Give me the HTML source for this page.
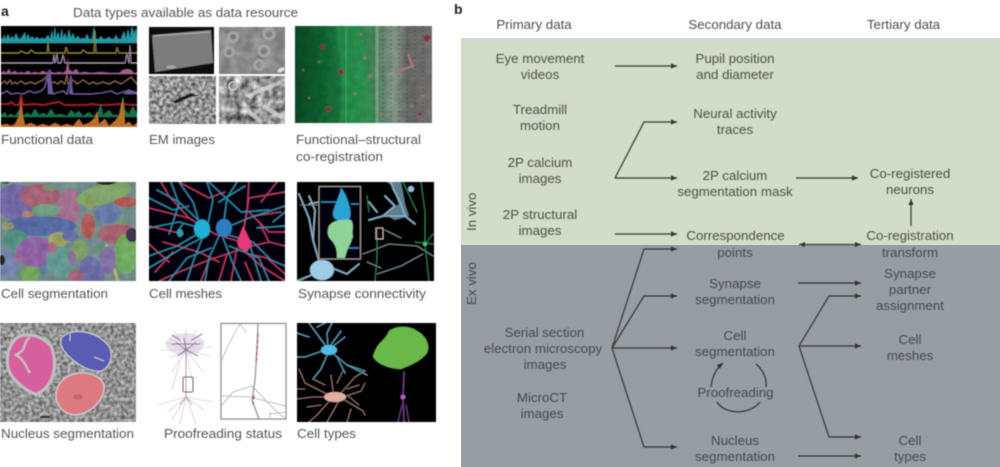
<!DOCTYPE html>
<html><head><meta charset="utf-8"><style>
html,body{margin:0;padding:0;background:#fff;width:1000px;height:467px;overflow:hidden}
svg{display:block}
text{font-family:"Liberation Sans",sans-serif;font-size:13.3px;fill:#555}
.r text,text.c{text-anchor:middle}
.r text{fill:#4d5048}
.g text{fill:#44484c}
.a{fill:none;stroke:#33362f;stroke-width:1.2;marker-end:url(#ah)}
.n{fill:none;stroke-linecap:round;stroke-linejoin:round}
</style></head><body>
<svg width="1000" height="467" viewBox="0 0 1000 467" xmlns="http://www.w3.org/2000/svg">
<defs>
<marker id="ah" markerUnits="userSpaceOnUse" markerWidth="7" markerHeight="6" refX="6" refY="3" orient="auto"><path d="M0 .5L6 3L0 5.500z" fill="#2e3029"/></marker>
<marker id="as" markerUnits="userSpaceOnUse" markerWidth="7" markerHeight="6" refX="1" refY="3" orient="auto"><path d="M7 .5L1 3L7 5.500z" fill="#2e3029"/></marker>
<filter id="b" x="-2%" y="-2%" width="104%" height="104%"><feGaussianBlur stdDeviation=".65"/></filter>
<filter id="b1" x="-5%" y="-5%" width="110%" height="110%"><feGaussianBlur stdDeviation="1"/></filter>
<filter id="gn" x="0" y="0" width="100%" height="100%" color-interpolation-filters="sRGB"><feTurbulence type="fractalNoise" baseFrequency=".28" numOctaves="3" seed="9"/><feColorMatrix values=".9 0 0 0 .12 .9 0 0 0 .12 .9 0 0 0 .12 0 0 0 0 1"/></filter>
<filter id="gn2" x="0" y="0" width="100%" height="100%" color-interpolation-filters="sRGB"><feTurbulence type="fractalNoise" baseFrequency=".13" numOctaves="3" seed="17"/><feColorMatrix values="1.100 0 0 0 .03 1.100 0 0 0 .03 1.100 0 0 0 .03 0 0 0 0 1"/></filter>
<filter id="gn3" x="0" y="0" width="100%" height="100%" color-interpolation-filters="sRGB"><feTurbulence type="fractalNoise" baseFrequency=".09" numOctaves="2" seed="3"/><feColorMatrix values="1.400 0 0 0 -.2 1.400 0 0 0 -.2 1.400 0 0 0 -.2 0 0 0 0 1"/></filter>
<linearGradient id="cg" x1="0" x2="1" y1="0" y2="0"><stop offset="0" stop-color="#0e4a24"/><stop offset=".25" stop-color="#136f38"/><stop offset=".42" stop-color="#1d8a48"/><stop offset=".58" stop-color="#4a8d62"/><stop offset=".66" stop-color="#74917c"/><stop offset=".72" stop-color="#8fa295"/><stop offset=".82" stop-color="#6c706c"/><stop offset="1" stop-color="#7b7778"/></linearGradient>
</defs>
<rect width="1000" height="467" fill="#fff"/>
<rect x="461" y="38" width="539" height="207.500" fill="#d2dcc9"/>
<rect x="461" y="245" width="539" height="222" fill="#989da3"/>

<g filter="url(#b)">
<!-- Functional data -->
<svg x="1" y="26" width="136" height="101" viewBox="0 0 136 101">
<rect width="136" height="101" fill="#050505"/>
<path d="M0 17V12L2 13 3 9 5 13 7 8 9 13 11 10 13 13 15 7 17 12 19 13 21 11 24 6 25 13 27 8 29 13 31 10 33 13 36 11 38 13 41 12 44 13 47 9 49 13 51 4 52 13 54 0 55 12 57 6 59 13 61 2 62 12 64 7 66 13 68 3 70 12 72 7 74 13 77 10 79 13 82 12 84 13 86 8 88 13 91 13 93 0 95 13 98 13 100 10 102 13 105 13 108 11 110 13 113 13 115 9 117 13 120 13 123 5 125 13 127 3 129 12 131 0 133 8 135 2 136 12V17Z" fill="#2398a2"/>
<path d="M0 27H18L20 25 24 27H28L30 24 34 27H46L47 17 48 27H64L65 21 67 27H80L82 24 86 27H93L94 5 95 27H115L116 22 118 27H136" fill="none" stroke="#8a8136" stroke-width="1"/>
<path class="n" stroke="#a18fa6" stroke-width=".9" d="M0 37H52L53 29 54 37 56 28 57 37 60 37 62 29 64 37H124L126 28 128 37 129 20 130 37H136"/>
<path d="M0 48V47L3 45 5 47 8 43 10 47 14 45 17 47 20 46 23 47 27 45 30 47 34 46 38 47 42 45 46 47 50 46 54 47 58 46 62 47 65 45 67 32 68 44 72 46 75 43 78 47 84 46 90 47 100 46 110 47 118 47 122 44 126 43 130 44 133 47 136 47V48Z" fill="#a35e8d"/>
<path class="n" stroke="#8a6352" stroke-width="1" d="M0 58 4 55 6 58 9 54 11 58 14 56 16 58 20 55 24 58 30 56 34 58 38 56 42 54 46 50 47 58 53 56 57 58 60 55 64 58 66 48 67 58 72 54 76 58 82 54 88 58 92 56 96 58 102 56 108 58 114 55 120 58 126 54 130 51 136 58"/>
<path class="n" stroke="#6d5aa0" stroke-width="1.100" d="M0 68 6 65 10 68 16 67 22 68 28 65 34 67 40 65 44 61 47 46 49 44 50 62 52 68 62 65 66 68 68 60 70 50 71 68 80 68 90 68 100 67 110 65 116 68 122 66 128 64 136 68"/>
<path d="M47 68V50L49 44 52 68ZM68 68 70 52 72 68ZM122 68 128 64 136 66V68Z" fill="#6d5aa0"/>
<path class="n" stroke="#a81f30" stroke-width="1.500" d="M0 78H8L10 76 14 79H18L20 70 22 79 34 78 42 79 52 77 58 76 64 79H86L90 78 100 79H108L118 78 136 79"/>
<path d="M0 91V89L4 86 6 90 10 88 14 90 18 84 21 90 26 87 30 89 34 83 38 89 42 87 46 89 50 83 54 89 60 88 66 90 70 84 74 88 78 85 82 90 88 86 92 90 96 88 100 78 102 89 108 84 112 89 118 89 122 70 124 84 128 88 132 80 136 88V91Z" fill="#136f49"/>
<path d="M0 101V99L6 98 10 100 14 98 18 90 20 72 22 90 24 99 30 97 36 100 42 98 48 100 54 97 60 100 66 98 72 100 78 93 82 99 88 97 94 92 96 85 98 98 104 93 108 100 114 95 118 90 122 72 124 98 128 96 132 100 136 97V101Z" fill="#bd7025"/>
</svg>
<!-- EM images -->
<svg x="149" y="27" width="65" height="47" viewBox="0 0 65 47"><rect width="65" height="47" fill="#0b0b0b"/><path d="M3 8 62 3 64 36 6 45Z" fill="#7c7c7c"/><path d="M5 9 61 5" stroke="#aaa" stroke-width="1.200"/><ellipse cx="22" cy="40" rx="5" ry="1.500" fill="#aaa"/></svg>
<svg x="219" y="27" width="66" height="47" viewBox="0 0 66 47"><rect width="66" height="47" filter="url(#gn3)"/><rect width="66" height="47" fill="#8a8a8a" opacity=".8"/><g fill="none" stroke="#a4a4a4" stroke-width="3"><circle cx="14" cy="10" r="4.500"/><circle cx="50" cy="7" r="5"/><circle cx="10" cy="25" r="4.500"/><circle cx="45" cy="24" r="5"/><circle cx="40" cy="38" r="4.500"/></g><ellipse cx="62" cy="43" rx="4" ry="2" fill="#ddd" transform="rotate(-30 62 43)"/></svg>
<svg x="149" y="76" width="67" height="48" viewBox="0 0 67 48"><rect width="67" height="48" filter="url(#gn)"/><path d="M26 28 46 19 42 17 24 25Z" fill="#222"/><path d="M30 22 50 19" stroke="#111" stroke-width="1"/></svg>
<svg x="219" y="76" width="66" height="48" viewBox="0 0 66 48"><rect width="66" height="48" filter="url(#gn2)"/><path d="M30 22C36 14 50 12 62 6M28 34 42 46M44 30 64 42" stroke="#ddd" stroke-width="4" fill="none" opacity=".7"/><circle cx="14" cy="10" r="4" fill="none" stroke="#ccc" stroke-width="1.500"/></svg>
<!-- Coregistration -->
<svg x="295" y="26" width="137" height="97" viewBox="0 0 137 97">
<rect width="137" height="97" fill="url(#cg)"/>
<path d="M60 0C75 14 68 40 82 97H44C50 50 42 20 40 0Z" fill="#2ea357" opacity=".55" filter="url(#b1)"/>
<rect width="137" height="97" filter="url(#gn2)" opacity=".2" style="mix-blend-mode:multiply"/>
<g stroke="#3c3f3c" stroke-width="1.400" stroke-dasharray="1 3.500" opacity=".7"><path d="M88 0V97M96 0V97M104 0V97M112 0V97M120 0V97M128 0V97"/></g>
<path d="M51 0V97" stroke="#6cbb86" stroke-width=".7" opacity=".6"/>
<path d="M82 0V97" stroke="#b7c6bb" stroke-width="3" opacity=".4"/>
<g fill="#8e2a3c"><circle cx="132" cy="12" r="3.200"/><circle cx="46" cy="46" r="2.600"/><circle cx="27" cy="21" r="2.200"/><circle cx="33" cy="83" r="2.600"/><circle cx="125" cy="88" r="1.600"/></g>
<g fill="#b77a5f" opacity=".6"><circle cx="8" cy="44" r="1.300"/><circle cx="24" cy="36" r="1.300"/><circle cx="70" cy="32" r="1.800"/><circle cx="75" cy="50" r="2.200"/><circle cx="60" cy="68" r="1.600"/><circle cx="95" cy="32" r="1.500"/><circle cx="66" cy="8" r="1.300"/><circle cx="100" cy="62" r="1.500"/><circle cx="128" cy="70" r="2.200"/><circle cx="117" cy="80" r="1.800"/><circle cx="86" cy="88" r="1.500"/><circle cx="14" cy="72" r="1.300"/></g>
<path d="M100 46 118 40 113 28 118 42" fill="none" stroke="#b8717c" stroke-width="1.800"/>
</svg>

<!-- Cell segmentation -->
<svg x="0" y="182" width="136" height="99" viewBox="0 0 136 99">
<rect width="136" height="99" fill="#6c8a8b"/>
<ellipse cx="16" cy="20" rx="20" ry="18" fill="#6e62a6"/><ellipse cx="40" cy="14" rx="20" ry="12" fill="#a85c72"/>
<ellipse cx="68" cy="28" rx="12" ry="22" fill="#a46c8e" transform="rotate(8 68 28)"/><ellipse cx="104" cy="12" rx="28" ry="10" fill="#7ea866" transform="rotate(-14 104 12)"/>
<ellipse cx="108" cy="32" rx="13" ry="10" fill="#5e76a8"/><ellipse cx="126" cy="20" rx="12" ry="5" fill="#b2504e"/><ellipse cx="118" cy="52" rx="20" ry="10" fill="#a85a6a"/>
<ellipse cx="40" cy="44" rx="36" ry="10" fill="#4f67a6"/><ellipse cx="88" cy="44" rx="7" ry="13" fill="#b2554e"/><ellipse cx="16" cy="58" rx="12" ry="10" fill="#488f7c"/>
<ellipse cx="36" cy="70" rx="20" ry="15" fill="#8e5aa6"/><ellipse cx="6" cy="82" rx="14" ry="14" fill="#6f7fb0"/><ellipse cx="30" cy="92" rx="10" ry="8" fill="#6aa74f"/><ellipse cx="58" cy="58" rx="10" ry="8" fill="#9fa25a"/>
<ellipse cx="60" cy="80" rx="14" ry="16" fill="#5c9a90" transform="rotate(-25 60 80)"/><ellipse cx="80" cy="68" rx="8" ry="10" fill="#7ba15c"/><ellipse cx="92" cy="90" rx="12" ry="16" fill="#6669a8" transform="rotate(-20 92 90)"/>
<ellipse cx="70" cy="54" rx="8" ry="5" fill="#5d69a6"/><ellipse cx="126" cy="72" rx="12" ry="20" fill="#6dad5b"/><path d="M106 62 118 99" stroke="#b3bf62" stroke-width="3"/>
<ellipse cx="108" cy="78" rx="8" ry="14" fill="#7e6aa8"/><ellipse cx="76" cy="94" rx="8" ry="6" fill="#a85f7a"/><ellipse cx="46" cy="28" rx="14" ry="6" fill="#69a07a"/>
<g opacity=".85"><ellipse cx="28" cy="32" rx="6" ry="3" fill="#c07a5a"/><ellipse cx="50" cy="6" rx="7" ry="3" fill="#6a9a6a"/><ellipse cx="90" cy="20" rx="5" ry="7" fill="#8a9a50"/><ellipse cx="8" cy="44" rx="6" ry="4" fill="#a0a060"/><ellipse cx="52" cy="66" rx="4" ry="6" fill="#c06080"/><ellipse cx="100" cy="66" rx="5" ry="4" fill="#5a9070"/><ellipse cx="18" cy="76" rx="5" ry="4" fill="#a66a90"/><ellipse cx="72" cy="76" rx="4" ry="7" fill="#8a60a0"/><ellipse cx="122" cy="40" rx="6" ry="3" fill="#6aa060"/><ellipse cx="44" cy="88" rx="4" ry="5" fill="#5a80a8"/></g>
<rect width="136" height="99" filter="url(#gn2)" opacity=".12"/>
<ellipse cx="132" cy="53" rx="6" ry="7" fill="#3f3650"/><ellipse cx="2" cy="78" rx="3" ry="5" fill="#222"/><path d="M95 0Q105 6 118 0Z" fill="#222"/><path d="M0 0Q8 3 10 0Z" fill="#222"/>
</svg>

<!-- Cell meshes -->
<svg x="149" y="182" width="136" height="99" viewBox="0 0 136 99">
<rect width="136" height="99" fill="#060608"/>
<g class="n" stroke="#b83660" stroke-width="1.400"><path d="M92 62 98 30 100 0"/><path d="M92 60 66 52 40 36 0 26"/><path d="M92 62 100 16 136 10"/><path d="M100 30 120 50 136 50"/><path d="M90 68 60 78 30 90 10 99"/><path d="M92 66 112 84 136 99"/><path d="M88 66 82 99"/><path d="M78 72 70 99"/><path d="M40 36 20 14 12 0"/><path d="M104 34 132 30"/><path d="M94 66 120 60 136 64"/><path d="M70 80 50 70 14 60"/><path d="M30 0 60 16 76 10"/><path d="M0 44 34 52"/><path d="M100 72 118 76 136 92"/><path d="M60 78 52 99"/><path d="M96 80 104 99"/><path d="M24 70 6 90"/><path d="M112 20 128 0"/><path d="M20 80 0 62"/><path d="M120 60 110 40"/></g>
<g class="n" stroke="#2a86a4" stroke-width="1.400"><path d="M52 46 44 20 30 0"/><path d="M52 46 30 40 0 46"/><path d="M52 50 28 64 0 74"/><path d="M54 54 44 80 38 99"/><path d="M58 46 64 18 58 0"/><path d="M74 46 78 16 88 0"/><path d="M76 46 100 36 136 24"/><path d="M76 52 104 60 122 78 136 84"/><path d="M74 56 84 82 92 99"/><path d="M70 54 60 76 56 99"/><path d="M60 48 30 20 8 8"/><path d="M60 0 92 30 120 28"/><path d="M0 86 30 68 60 52"/><path d="M100 60 112 99"/><path d="M124 40 136 30"/><path d="M22 0 30 22 20 52"/><path d="M0 16 24 28 40 24"/><path d="M34 42 28 50"/><path d="M20 99 38 76 62 66"/><path d="M80 64 110 76 120 99"/><path d="M108 46 136 44"/><path d="M70 20 96 4"/></g>
<ellipse cx="53" cy="47" rx="8" ry="9.500" fill="#1cb1d6"/><ellipse cx="75" cy="46" rx="8" ry="9" fill="#2f7dc0"/><path d="M94 44 88 60 90 66 98 70 103 62Z" fill="#e63a78"/><ellipse cx="31" cy="51" rx="3" ry="4" fill="#2aa0a8"/>
</svg>

<!-- Synapse connectivity -->
<svg x="297" y="182" width="137" height="99" viewBox="0 0 137 99">
<rect width="137" height="99" fill="#030304"/>
<g class="n" stroke="#86b0c4" stroke-width="1.600"><path d="M24 86 16 58 12 36 2 12"/><path d="M16 58 18 28 12 14"/><path d="M22 90 0 99"/><path d="M30 84 50 92 62 82"/><path d="M72 38 86 34 108 34 104 22 96 6 94 0"/><path d="M108 34 118 42"/><path d="M86 34 98 24 88 14"/><path d="M12 22 22 20"/><path d="M80 30 72 20"/></g>
<path d="M88 32 102 22 96 4 90 0 104 0 108 22 112 34 98 38Z" fill="#86b4c8" opacity=".7"/>
<ellipse cx="25" cy="88" rx="12" ry="10" fill="#9ccde4"/><circle cx="114" cy="7" r="3" fill="#8cc0d8"/>
<g class="n" stroke="#7e99a0" stroke-width=".8"><path d="M66 72 92 62 120 64 136 74"/><path d="M80 92 104 84 126 72"/><path d="M88 48 104 56"/><path d="M70 80 84 86"/></g>
<g class="n" stroke="#2a8552" stroke-width=".9"><path d="M124 0 128 30 128 62 132 99"/><path d="M118 60 136 62"/><path d="M80 46 80 76 78 99"/><path d="M128 62 136 52"/><path d="M106 0 120 30"/><path d="M72 30 70 14"/></g>
<circle cx="128" cy="62" r="2" fill="#43c97e"/>
<rect x="22" y="4.500" width="41.500" height="72.500" fill="#050608" stroke="#9b8b86" stroke-width="1.200"/>
<path d="M44 6C42 16 36 26 36 32 36 38 42 40 50 39 54 38 54 32 53 26 51 18 48 10 44 6Z" fill="#2ba3d2"/><path d="M24 20H40M54 22H62M44 66H62" stroke="#2e8fb0" stroke-width="1.500" fill="none"/>
<path d="M32 44C36 38 46 37 54 38 58 44 54 50 56 54 54 62 50 66 48 76H40C40 66 38 62 34 58 30 54 30 48 32 44Z" fill="#8fd39b"/>
<rect x="79" y="46" width="7" height="11" fill="none" stroke="#bba39c" stroke-width="1"/><path d="M3 23H22" stroke="#9b8b86" stroke-width=".8"/>
</svg>

<!-- Nucleus segmentation -->
<svg x="0" y="323" width="136" height="99" viewBox="0 0 136 99">
<rect width="136" height="99" filter="url(#gn)"/>
<rect width="136" height="99" fill="#8f8f8f" opacity=".2"/>
<path d="M14 20C22 8 42 14 50 24 56 40 54 62 36 70 26 66 10 54 9 42 8 32 10 26 14 20Z" fill="none" stroke="#c0c0c0" stroke-width="6"/>
<path d="M14 20C22 8 42 14 50 24 56 40 54 62 36 70 26 66 10 54 9 42 8 32 10 26 14 20Z" fill="#d6609e"/>
<path d="M30 14C22 20 28 26 16 32 24 36 26 44 30 50" fill="none" stroke="#c9bfc6" stroke-width="2.200"/>
<path d="M62 14C74 4 94 9 104 18 114 26 114 40 102 48 88 50 72 38 64 28 60 22 60 18 62 14Z" fill="#5a5cb4" stroke="#c9c9c9" stroke-width="1.200"/>
<path d="M70 10V18M94 34 104 38" stroke="#c7c8e0" stroke-width="1"/>
<path d="M60 60C70 46 98 46 104 62 106 76 90 92 74 92 60 90 50 76 60 60Z" fill="#dd7a80" stroke="#c9c9c9" stroke-width="1.500"/>
<ellipse cx="78" cy="74" rx="5" ry="3" fill="#c8666f"/>
<path d="M40 94H50" stroke="#222" stroke-width="2"/>
</svg>

<!-- Proofreading -->
<ellipse cx="185" cy="344" rx="19" ry="11" fill="#cdbcd2" opacity=".45"/>
<g class="n" stroke="#cbbdcf" stroke-width=".6">
<path d="M186 350 165 342M186 350 170 358M186 350 175 332M186 350 196 330M186 350 205 341M186 350 210 356M186 350 172 372M186 350 203 372M186 350 186 330M186 350 160 350M186 350 212 347M180 360 172 390M186 350 192 380"/>
<path d="M186 397 168 412M186 397 172 420M186 397 204 410M186 397 196 424M186 397 180 424M186 397 158 405M186 397 212 402"/>
</g>
<g class="n" stroke="#7a5c88" stroke-width=".8"><path d="M186 350 176 342M186 350 196 342M186 350 178 356M186 350 198 356M186 350 184 338M186 344H172M186 344H200M180 340 172 335M192 340 202 334"/></g>
<path class="n" stroke="#b58aa0" stroke-width=".9" d="M186 350V397"/><path class="n" stroke="#b09aa8" stroke-width=".7" d="M186 397 180 405M186 397 192 405"/>
<rect x="183" y="377" width="10" height="15" rx="1.500" fill="none" stroke="#766" stroke-width="1"/>
<rect x="221" y="323.500" width="65" height="95.500" fill="#fff" stroke="#8a8a8a" stroke-width="1.300"/>
<g class="n" stroke="#bdbbc7" stroke-width="1"><path d="M240 324 228 345 222 360M222 405 233 392 252 386 277 412 285 418M222 396 250 397 285 406M285 412 270 414M270 412V419M240 324 246 332"/></g>
<path class="n" stroke="#9a95a8" stroke-width="1.500" d="M258 324 257 350 255 380 252 400 259 419"/>
<path class="n" stroke="#b12c50" stroke-width="1.400" stroke-dasharray="3 3" d="M258 334 256 362M254 396 253 404"/>

<!-- Cell types -->
<svg x="297" y="323" width="139" height="99" viewBox="0 0 139 99">
<rect width="139" height="99" fill="#040405"/>
<g class="n" stroke="#5a9db6" stroke-width="1.100"><path d="M31 26 30 10 35 0"/><path d="M31 26 12 0"/><path d="M31 26 44 8"/><path d="M31 26 8 34 0 34"/><path d="M33 28 50 42 68 48"/><path d="M31 30 24 46 16 56"/><path d="M35 24 48 14"/><path d="M50 42 70 52"/><path d="M12 14 0 10"/><path d="M40 34 48 50"/><path d="M20 4 28 0"/></g>
<ellipse cx="32" cy="27" rx="8" ry="5" fill="#4cc0e4"/>
<g class="n" stroke="#a47d74" stroke-width=".8"><path d="M36 74 8 60 2 46"/><path d="M36 74 16 74 0 76"/><path d="M36 74 20 92 12 99"/><path d="M44 74 34 92 30 99"/><path d="M36 68 34 52"/><path d="M44 70 58 54 68 48"/><path d="M46 74 64 68 68 60"/><path d="M46 76 66 88 68 92"/><path d="M50 72 62 82"/><path d="M40 60 46 48"/><path d="M10 84 24 82"/><path d="M50 66 62 62"/><path d="M28 62 16 56"/><path d="M54 86 50 99"/><path d="M8 66 0 66"/></g>
<ellipse cx="38" cy="74" rx="11" ry="5" fill="#e3aca0"/>
<path d="M78 28C82 18 88 18 92 8 100 2 114 3 120 8 128 12 134 22 130 30 124 38 114 42 104 46 92 46 78 40 76 33Z" fill="#6bb84a"/>
<path class="n" stroke="#7c4696" stroke-width="1.100" d="M107 49 106 75 107 99"/><path class="n" stroke="#7c4696" stroke-width=".8" d="M105 82 101 99M109 82 112 99"/><circle cx="106" cy="74" r="2.400" fill="#b95cc0"/>
</svg>
</g>

<g filter="url(#b)">
<text x="1" y="16" style="font-weight:bold;font-size:14px;fill:#222">a</text>
<text x="454" y="14" style="font-weight:bold;font-size:14px;fill:#222">b</text>
<text x="73" y="17" textLength="225" lengthAdjust="spacingAndGlyphs">Data types available as data resource</text>
<text x="1" y="144" textLength="92" lengthAdjust="spacingAndGlyphs">Functional data</text>
<text x="149" y="144" textLength="66" lengthAdjust="spacingAndGlyphs">EM images</text>
<text x="296" y="144" textLength="125" lengthAdjust="spacingAndGlyphs">Functional–structural</text>
<text x="296" y="161" textLength="87" lengthAdjust="spacingAndGlyphs">co-registration</text>
<text x="1" y="298" textLength="107" lengthAdjust="spacingAndGlyphs">Cell segmentation</text>
<text x="149" y="298" textLength="73" lengthAdjust="spacingAndGlyphs">Cell meshes</text>
<text x="298" y="298" textLength="128" lengthAdjust="spacingAndGlyphs">Synapse connectivity</text>
<text x="1" y="438" textLength="133" lengthAdjust="spacingAndGlyphs">Nucleus segmentation</text>
<text x="164" y="438" textLength="118" lengthAdjust="spacingAndGlyphs">Proofreading status</text>
<text x="297" y="438" textLength="59" lengthAdjust="spacingAndGlyphs">Cell types</text>

<g class="r">
<text x="534" y="29">Primary data</text><text x="735" y="29">Secondary data</text><text x="903.500" y="29">Tertiary data</text>
<text x="540" y="63">Eye movement</text><text x="540" y="79">videos</text>
<text x="735" y="63">Pupil position</text><text x="735" y="79">and diameter</text>
<text x="540" y="114">Treadmill</text><text x="540" y="130">motion</text>
<text x="735" y="118">Neural activity</text><text x="735" y="134">traces</text>
<text x="540" y="167">2P calcium</text><text x="540" y="183">images</text>
<text x="735" y="180">2P calcium</text><text x="735" y="196">segmentation mask</text>
<text x="910" y="178">Co-registered</text><text x="910" y="194">neurons</text>
<text x="540" y="219">2P structural</text><text x="540" y="235">images</text>
<text x="735.500" y="240">Correspondence</text>
<text x="910" y="240">Co-registration</text>
<text transform="translate(476 231) rotate(-90)" style="text-anchor:start">In vivo</text>
</g>
<g class="r g">
<text x="735" y="257">points</text><text x="910" y="257">transform</text>
<text x="735" y="288">Synapse</text><text x="735" y="304">segmentation</text>
<text x="910" y="278">Synapse</text><text x="910" y="294">partner</text><text x="910" y="310">assignment</text>
<text x="544.500" y="337">Serial section</text><text x="543" y="353">electron microscopy</text><text x="545" y="369">images</text>
<text x="542" y="402">MicroCT</text><text x="542" y="418">images</text>
<text x="735" y="340">Cell</text><text x="735" y="356">segmentation</text>
<text x="735.500" y="397">Proofreading</text>
<text x="910" y="344">Cell</text><text x="910" y="360">meshes</text>
<text x="735" y="445">Nucleus</text><text x="735" y="461">segmentation</text>
<text x="910" y="445">Cell</text><text x="910" y="461">types</text>
<text transform="translate(476 305) rotate(-90)" style="text-anchor:start">Ex vivo</text>
</g>

<path class="a" d="M615 66H677"/>
<path class="a" d="M615 178 644 122H677"/>
<path class="a" d="M615 178H677"/>
<path class="a" d="M796 178H858"/>
<path class="a" d="M911 226V199"/>
<path class="a" d="M615 234H677"/>
<path class="a" style="marker-start:url(#as)" d="M799 244.500H861"/>
<path class="a" d="M612 348 644 249H677"/>
<path class="a" d="M612 348 644 296H677"/>
<path class="a" d="M612 348H677"/>
<path class="a" d="M612 348 644 447H677"/>
<path class="a" d="M798 283H861"/>
<path class="a" d="M799 346 829 296H861"/>
<path class="a" d="M799 346H861"/>
<path class="a" d="M799 346 829 437H861"/>
<path class="a" d="M798 456H861"/>
<path class="a" d="M711 387C712 377 716 369 723 363"/>
<path class="a" style="marker-end:none" d="M756 364C762 369 767 377 766 387"/>
<path class="a" style="marker-end:none" d="M717 402C725 415 750 415 760 402"/>
</g>
</svg>
</body></html>
